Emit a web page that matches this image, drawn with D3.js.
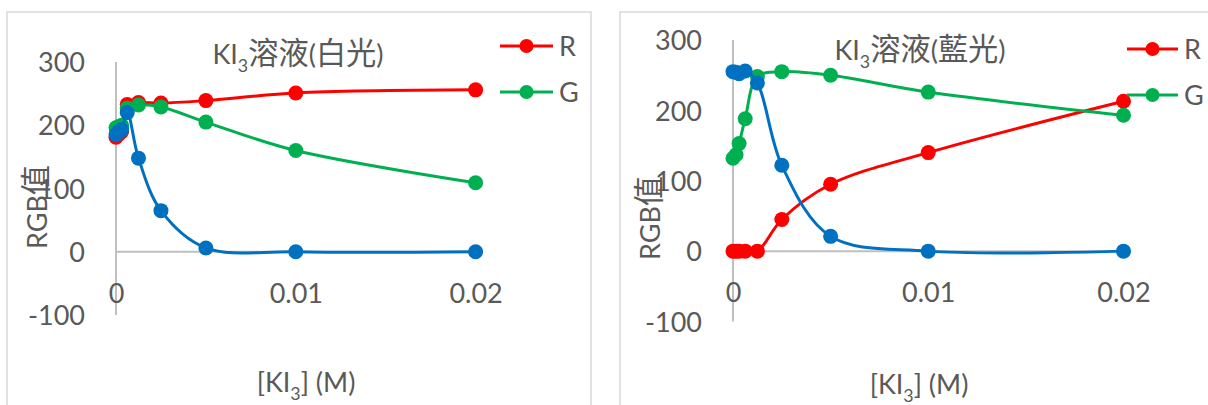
<!DOCTYPE html>
<html>
<head>
<meta charset="utf-8">
<script src="https://cdn.jsdelivr.net/npm/d3@7"></script>
<style>
  html, body { margin: 0; padding: 0; background: #fff; }
  svg { display: block; }
  text { font-family: Lato, "Noto Sans CJK TC", sans-serif; fill: #595959; }
</style>
</head>
<body>
<svg id="chart" width="1208" height="405"></svg>
<script>
// ---- data ----
const conc = [0, 0.00015625, 0.0003125, 0.000625, 0.00125, 0.0025, 0.005, 0.01, 0.02];
const whiteR = [181, 186, 190, 233, 236, 235, 239, 251, 256];
const whiteG = [196, 198, 200, 227, 232, 229, 205, 160, 109];
const whiteB = [185, 190, 193, 220, 148, 65, 6, 0, 0];
const blueR = [0, 0, 0, 0, 0, 45, 95, 140, 213];
const blueG = [132, 137, 153, 188, 248, 255, 250, 226, 193];
const blueB = [255, 254, 252, 256, 239, 122, 21, 0, 0];
const yTicks = [-100, 0, 100, 200, 300];
const xTicks = [0, 0.01, 0.02];
const xTickLabels = ["0", "0.01", "0.02"];
const legendNames = ["R", "G"];
const titleWhite = [["KI"], ["3", "sub"], ["溶液", "cjk"], ["("], ["白光", "cjk"], [")"]];
const titleBlue = [["KI"], ["3", "sub"], ["溶液", "cjk"], ["("], ["藍光", "cjk"], [")"]];
const xTitle = [["[KI"], ["3", "sub"], ["] (M)"]];
const yTitle = [["RGB"], ["值", "cjk"]];

const colors = { R: "#ff0000", G: "#00b050", B: "#0070c0" };
const FS = 27;

const svg = d3.select("#chart");

function richText(g, segs, x, y, anchor, size) {
  const t = g.append("text").attr("x", x).attr("y", y)
    .attr("text-anchor", anchor).style("font-size", size + "px");
  let shift = 0;
  segs.forEach(([s, kind]) => {
    const ts = t.append("tspan").text(s);
    if (kind === "sub") {
      ts.style("font-size", (size * 0.66) + "px").attr("dy", size * 0.28);
      shift = size * 0.28;
    } else {
      if (kind === "cjk") ts.style("font-size", (size * 1.12) + "px");
      if (shift) { ts.attr("dy", -shift); shift = 0; }
    }
  });
  return t;
}

function drawChart(opt) {
  const g = svg.append("g");
  g.append("rect").attr("x", opt.box[0]).attr("y", opt.box[1])
    .attr("width", opt.box[2]).attr("height", opt.box[3])
    .attr("fill", "none").attr("stroke", "#d9d9d9").attr("stroke-width", 1.5);

  const x = d3.scaleLinear().domain([0, 0.025]).range([opt.x0, opt.x1]);
  const y = d3.scaleLinear().domain([-100, 300]).range([opt.yb, opt.yt]);

  g.append("line").attr("x1", x(0)).attr("x2", x(0)).attr("y1", y(300)).attr("y2", y(-100))
    .attr("stroke", "#bfbfbf").attr("stroke-width", 2);
  g.append("line").attr("x1", x(0)).attr("x2", x(0.02)).attr("y1", y(0)).attr("y2", y(0))
    .attr("stroke", "#bfbfbf").attr("stroke-width", 2);

  const ya = g.append("g").attr("transform", `translate(${x(0)},0)`)
    .call(d3.axisLeft(y).tickValues(yTicks).tickSize(0).tickPadding(31).tickFormat(d => String(d)));
  ya.select(".domain").remove();
  ya.selectAll("text").style("font-size", FS + "px").style("font-family", null).attr("fill", null).attr("dy", "0.36em");

  const xa = g.append("g").attr("transform", `translate(0,${opt.xLabelY})`)
    .call(d3.axisBottom(x).tickValues(xTicks).tickSize(0).tickPadding(0)
      .tickFormat((d, i) => xTickLabels[i]));
  xa.select(".domain").remove();
  xa.selectAll("text").style("font-size", FS + "px").style("font-family", null).attr("fill", null)
    .attr("y", 0).attr("dy", "0.36em");

  const line = d3.line().x(d => x(d[0])).y(d => y(d[1])).curve(d3.curveCatmullRom.alpha(0.5));
  opt.series.forEach(s => {
    const pts = conc.map((c, i) => [c, s.values[i]]);
    g.append("path").datum(pts).attr("d", line).attr("fill", "none")
      .attr("stroke", colors[s.name]).attr("stroke-width", 3);
    g.append("g").selectAll("circle").data(pts).join("circle")
      .attr("cx", d => x(d[0])).attr("cy", d => y(d[1])).attr("r", 7.5)
      .attr("fill", colors[s.name]);
  });

  richText(g, opt.title, opt.titleX, opt.titleY, "middle", FS);
  richText(g, xTitle, opt.xTitleX, opt.xTitleY, "middle", FS);
  const yt = richText(g, yTitle, 0, 0, "middle", FS);
  yt.attr("transform", `translate(${opt.yTitleX},${opt.yTitleY}) rotate(-90)`).attr("dy", "0.36em");

  legendNames.forEach((n, i) => {
    const ly = opt.legY[i];
    g.append("line").attr("x1", opt.legX[0]).attr("x2", opt.legX[1]).attr("y1", ly).attr("y2", ly)
      .attr("stroke", colors[n]).attr("stroke-width", 3);
    g.append("circle").attr("cx", (opt.legX[0] + opt.legX[1]) / 2).attr("cy", ly).attr("r", 7)
      .attr("fill", colors[n]);
    g.append("text").attr("x", opt.legX[1] + 6).attr("y", ly).attr("dy", "0.36em")
      .style("font-size", FS + "px").text(n);
  });
}

drawChart({
  box: [7, 12, 584, 420],
  x0: 116, x1: 116 + 0.025 * 17980,
  yt: 62, yb: 315,
  xLabelY: 293,
  series: [{ name: "R", values: whiteR }, { name: "G", values: whiteG }, { name: "B", values: whiteB }],
  title: titleWhite, titleX: 298, titleY: 64,
  xTitleX: 306, xTitleY: 392,
  yTitleX: 37, yTitleY: 207,
  legX: [500, 553], legY: [46, 92]
});

drawChart({
  box: [620, 12, 620, 420],
  x0: 733, x1: 733 + 0.025 * 19525,
  yt: 40, yb: 321.5,
  xLabelY: 292.5,
  series: [{ name: "R", values: blueR }, { name: "G", values: blueG }, { name: "B", values: blueB }],
  title: titleBlue, titleX: 920, titleY: 60,
  xTitleX: 919, xTitleY: 394,
  yTitleX: 650, yTitleY: 218,
  legX: [1127, 1178], legY: [49, 95]
});
</script>
</body>
</html>
